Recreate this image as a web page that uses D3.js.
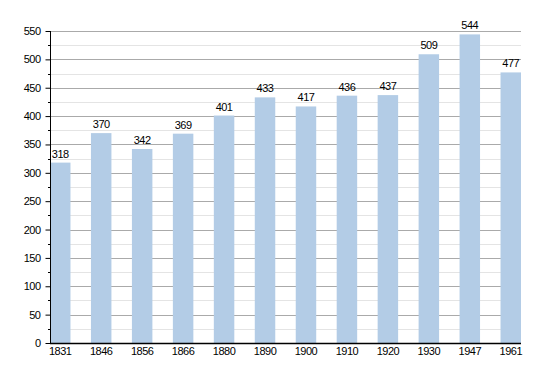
<!DOCTYPE html>
<html>
<head>
<meta charset="utf-8">
<script src="https://cdn.jsdelivr.net/npm/d3@7"></script>
<style>
  body { margin: 0; background: #fff; }
  text { font-family: "Liberation Sans", Arial, sans-serif; font-size: 11px; letter-spacing: -0.5px; fill: #000; }
</style>
</head>
<body>
<script>
// census years and population
const years = ["1831", "1846", "1856", "1866", "1880", "1890", "1900", "1910", "1920", "1930", "1947", "1961"];
const population = [318, 370, 342, 369, 401, 433, 417, 436, 437, 509, 544, 477];
const majorTicks = [0, 50, 100, 150, 200, 250, 300, 350, 400, 450, 500, 550];
const minorTicks = [25, 75, 125, 175, 225, 275, 325, 375, 425, 475, 525];

const W = 550, H = 373;
const mLeft = 50, mRight = 521, mTop = 31, mBottom = 343;

const svg = d3.select("body").append("svg")
  .attr("width", W)
  .attr("height", H);

const x = d3.scaleBand()
  .domain(years)
  .range([mLeft, mRight])
  .paddingInner(0.5)
  .paddingOuter(0);

const y = d3.scaleLinear()
  .domain([0, 550])
  .range([mBottom, mTop]);

// minor grid
svg.append("g").selectAll("line")
  .data(minorTicks)
  .join("line")
    .attr("x1", mLeft).attr("x2", mRight)
    .attr("y1", d => Math.round(y(d)) + 0.5)
    .attr("y2", d => Math.round(y(d)) + 0.5)
    .attr("stroke", "#e4e4e4");

// major grid
svg.append("g").selectAll("line")
  .data(majorTicks.slice(1))
  .join("line")
    .attr("x1", mLeft).attr("x2", mRight)
    .attr("y1", d => Math.round(y(d)) + 0.5)
    .attr("y2", d => Math.round(y(d)) + 0.5)
    .attr("stroke", "#aaaaaa");

// bars
svg.append("g").selectAll("rect")
  .data(years)
  .join("rect")
    .attr("x", d => x(d))
    .attr("width", x.bandwidth())
    .attr("y", (d, i) => y(population[i]))
    .attr("height", (d, i) => y(0) - y(population[i]))
    .attr("fill", "#b3cce6");

// value labels
svg.append("g").selectAll("text")
  .data(years)
  .join("text")
    .attr("x", d => x(d) + x.bandwidth() / 2)
    .attr("y", (d, i) => y(population[i]) - 5)
    .attr("text-anchor", "middle")
    .text((d, i) => population[i]);

// y axis
const yAxis = d3.axisLeft(y)
  .tickValues(majorTicks)
  .tickSize(5)
  .tickPadding(5);
const gy = svg.append("g")
  .attr("transform", `translate(${mLeft + 0.5},0)`)
  .call(yAxis);
gy.select(".domain").remove();
gy.selectAll("text").style("font-size", "11px").attr("fill", "#000");
gy.selectAll("line").attr("stroke", "#000");

svg.append("g").selectAll("line")
  .data(minorTicks)
  .join("line")
    .attr("x1", mLeft - 2).attr("x2", mLeft)
    .attr("y1", d => Math.round(y(d)) + 0.5).attr("y2", d => Math.round(y(d)) + 0.5)
    .attr("stroke", "#000");

svg.append("line")
  .attr("x1", mLeft + 0.5).attr("x2", mLeft + 0.5)
  .attr("y1", mTop).attr("y2", mBottom)
  .attr("stroke", "#000");

// x axis
const xAxis = d3.axisBottom(x).tickSize(0).tickPadding(4);
const gx = svg.append("g")
  .attr("transform", `translate(0,${mBottom})`)
  .call(xAxis);
gx.select(".domain").remove();
gx.selectAll("text").style("font-size", "11px").attr("fill", "#000");

svg.append("line")
  .attr("x1", mLeft).attr("x2", mRight)
  .attr("y1", mBottom + 0.5).attr("y2", mBottom + 0.5)
  .attr("stroke", "#000")
  .attr("stroke-width", 1.5);
</script>
</body>
</html>
